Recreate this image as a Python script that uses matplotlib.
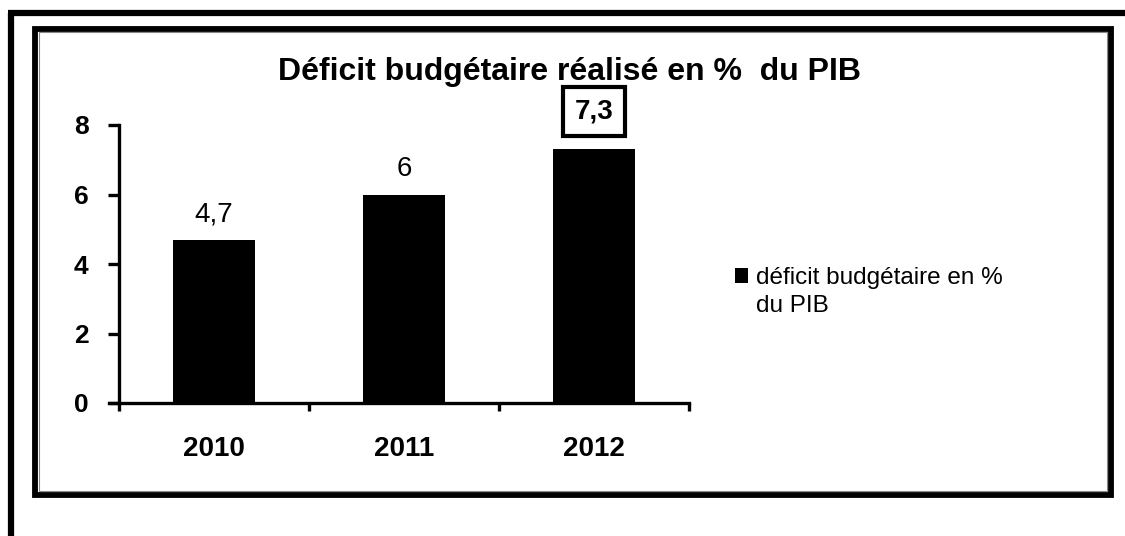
import matplotlib
matplotlib.use('Agg')
import matplotlib.pyplot as plt
from matplotlib.patches import Rectangle
from matplotlib.legend_handler import HandlerPatch

plt.rcParams['font.family'] = ['Liberation Sans', 'DejaVu Sans']

years = ['2010', '2011', '2012']
deficit = [4.7, 6.0, 7.3]
value_labels = ['4,7', '6', '7,3']
y_ticks = [0, 2, 4, 6, 8]
title = 'Déficit budgétaire réalisé en %  du PIB'
legend_label = 'déficit budgétaire en %\ndu PIB'

W, H = 1125, 536
fig = plt.figure(figsize=(W / 100, H / 100), dpi=100)

# frames drawn on a full-figure overlay in pixel units
bg = fig.add_axes([0, 0, 1, 1])
bg.set_xlim(0, W)
bg.set_ylim(H, 0)
bg.axis('off')
bg.plot([11, 11], [13, H + 5], color='black', lw=4.5, solid_capstyle='butt')
bg.plot([8, W + 5], [13, 13], color='black', lw=4.5, solid_capstyle='butt')
bg.add_patch(Rectangle((35, 28.5), 1076, 466, fill=False, ec='black', lw=4.2))
bg.add_patch(Rectangle((39, 32), 1068, 459, fill=False, ec='#888888', lw=0.8))

ax = fig.add_axes([119 / W, 133 / H, 570 / W, 278 / H])
x = range(len(years))
bars = ax.bar(x, deficit, width=0.43, color='black', label=legend_label)
ax.set_xlim(-0.5, len(years) - 0.5)
ax.set_ylim(0, 8)
ax.set_yticks(y_ticks)
ax.set_yticklabels([str(t) for t in y_ticks], fontsize=19, fontweight='bold')
ax.set_xticks(x)
ax.set_xticklabels(years, fontsize=20, fontweight='bold')
ax.tick_params(axis='x', length=0, pad=24)
ax.tick_params(axis='y', length=8, width=2.4, direction='out', pad=14)
# category boundary ticks on x axis
ax.set_xticks([i - 0.5 for i in range(len(years) + 1)], minor=True)
ax.tick_params(axis='x', which='minor', length=6, width=2.4, direction='out')
for s in ['top', 'right']:
    ax.spines[s].set_visible(False)
ax.spines['left'].set_linewidth(2.4)
ax.spines['bottom'].set_linewidth(2.4)
ax.spines['bottom'].set_bounds(-0.55, len(years) - 0.5)

texts = ax.bar_label(bars, labels=value_labels, padding=9, fontsize=20)
# highlighted last value sits in a box a bit higher up
texts[-1].set_fontweight('bold')
texts[-1].xyann = (0, 18)
texts[-1].set_bbox(dict(boxstyle='square,pad=0.42', fc='white', ec='black', lw=3))

fig.text(569 / W, 1 - 72 / H, title, ha='center', va='center', fontsize=23, fontweight='bold')


def top_square(legend, orig_handle, xdescent, ydescent, width, height, fontsize):
    # put the square next to the first line of the two-line label
    return Rectangle((-xdescent, -ydescent + 0.68 * fontsize), width, height)


leg = fig.legend(handles=[bars.patches[0]], labels=[legend_label],
                 loc='center left', bbox_to_anchor=(735 / W, 1 - 292 / H), frameon=False,
                 fontsize=17.5, handlelength=0.55, handleheight=0.55, handletextpad=0.3,
                 borderpad=0, borderaxespad=0,
                 handler_map={Rectangle: HandlerPatch(patch_func=top_square)})
for t in leg.get_texts():
    t.set_linespacing(1.35)

fig.savefig('out.png', dpi=100)
